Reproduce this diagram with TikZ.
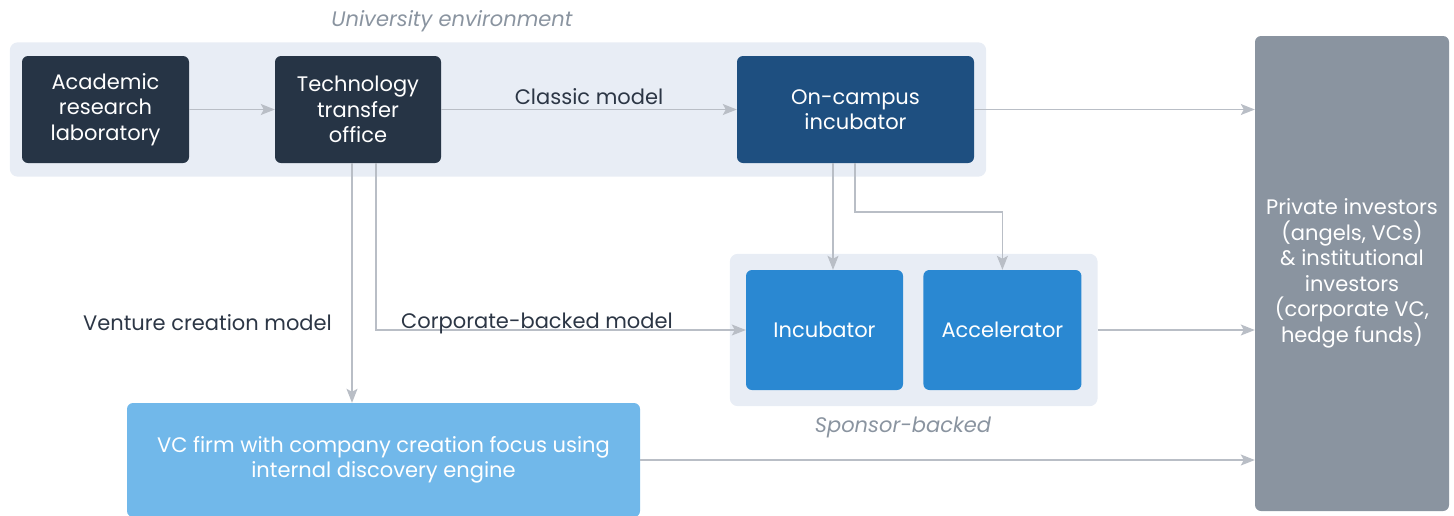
\documentclass[tikz,border=0pt]{standalone}
\usepackage{fontspec}
\setmainfont{Poppins}
\usetikzlibrary{arrows.meta,positioning,fit,backgrounds}
\definecolor{darkslate}{HTML}{263445}
\definecolor{navyblue}{HTML}{1E4F80}
\definecolor{midblue}{HTML}{2A88D2}
\definecolor{lightblue}{HTML}{71B8EA}
\definecolor{slategray}{HTML}{8A94A0}
\definecolor{panelgray}{HTML}{E8EDF5}
\definecolor{linegray}{HTML}{B9BEC6}
\definecolor{textdark}{HTML}{2C3645}
\tikzset{
  block/.style={rectangle, rounded corners=6pt, fill=darkslate, text=white, inner sep=0pt,
                align=center, font=\fontsize{21}{25.5}\selectfont},
  blocknavy/.style={block, fill=navyblue},
  blockmid/.style={block, fill=midblue},
  blocklight/.style={block, fill=lightblue},
  blockgray/.style={block, fill=slategray},
  panel/.style={rectangle, rounded corners=8pt, fill=panelgray},
  arrow/.style={-{Stealth[length=14pt, width=11pt, inset=3pt]}, line width=1.3pt, linegray},
  label/.style={font=\fontsize{21}{25.5}\selectfont, text=textdark},
  grouplabel/.style={font=\fontsize{21}{25.5}\selectfont\itshape, text=slategray},
}

\begin{document}
\begin{tikzpicture}[x=1pt, y=-1pt]
\useasboundingbox (0,0) rectangle (1454,515);

% university part
\node[block, minimum width=167pt, minimum height=107pt] (lab) at (105.5,109.5) {Academic\\research\\laboratory};
\node[block, minimum width=166pt, minimum height=107pt] (tto) at (358,109.5) {Technology\\transfer\\office};
\node[blocknavy, minimum width=237pt, minimum height=107pt] (oncampus) at (855.5,109.5) {On-campus\\incubator};

% sponsors
\node[blockmid, minimum width=157pt, minimum height=120pt] (incub) at (824.5,330) {Incubator};
\node[blockmid, minimum width=158pt, minimum height=120pt, right=20pt of incub] (accel) {Accelerator};

\node[blocklight, minimum width=513pt, minimum height=114pt] (vcfirm) at (383.5,460) {VC firm with company creation focus using\\internal discovery engine};
\node[blockgray, minimum width=194pt, minimum height=475pt] (investors) at (1352,273.5) {Private investors\\(angels, VCs)\\\& institutional\\investors\\(corporate VC,\\hedge funds)};

\begin{scope}[on background layer]
\node[panel, fit=(lab)(oncampus), inner xsep=12pt, inner ysep=13.5pt] (univ) {};
\node[panel, fit=(incub)(accel), inner xsep=16pt, inner ysep=16pt] (sponsor) {};
\end{scope}
\node[grouplabel] (univlabel) at (452,21) {University environment};
\node[grouplabel] (sponsorlabel) at (903,427) {Sponsor-backed};

\coordinate (ttoleft) at (352,163);
\coordinate (ttoright) at (376,163);
\coordinate (ocleft) at (833,163);
\coordinate (ocright) at (855,163);

\draw[arrow] (lab) -- (tto);
\draw[arrow] (tto) -- (oncampus) node[midway, above=1pt, label] {Classic model};
\draw[arrow] (oncampus.east) -- (oncampus.east -| investors.west);
\draw[arrow] (ocleft) -- (ocleft |- incub.north);
\draw[arrow] (ocright) |- (930,212) -| (accel.north);
\draw[arrow] (ttoleft) -- (ttoleft |- vcfirm.north);
\draw[arrow] (ttoright) |- (incub.west);
\draw[arrow] (sponsor.east) -- (sponsor.east -| investors.west);
\draw[arrow] (vcfirm.east) -- (vcfirm.east -| investors.west);

\node[label] (venturelabel) at (207.5,323) {Venture creation model};
\node[label] (corplabel) at (537,323) {Corporate-backed model};
\end{tikzpicture}
\end{document}
